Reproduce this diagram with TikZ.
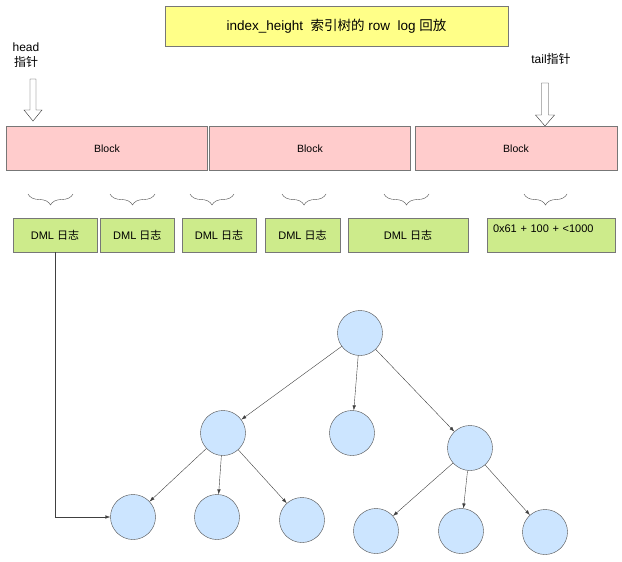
\documentclass[tikz,border=0pt]{standalone}
\usepackage{fontspec}
\setmainfont{Liberation Sans}
\newfontfamily\cjk{Noto Sans CJK SC}
\usetikzlibrary{arrows.meta,decorations.pathreplacing}
\definecolor{titleyellow}{HTML}{FFFF88}
\definecolor{blockpink}{HTML}{FFCCCC}
\definecolor{loggreen}{HTML}{CDEB8B}
\definecolor{nodeblue}{HTML}{CCE5FF}
\definecolor{linegray}{HTML}{777777}

\begin{document}
\begin{tikzpicture}[
        x=1pt, y=-1pt,
        titlebox/.style={draw=linegray, fill=titleyellow, minimum width=343pt, minimum height=40pt, font=\fontsize{13.5}{16}\selectfont},
        block/.style={draw=linegray, fill=blockpink, minimum width=201pt, minimum height=44.5pt, font=\fontsize{10.5}{12}\selectfont},
        dmllog/.style={draw=linegray, fill=loggreen, minimum height=34pt, font=\fontsize{11}{13}\selectfont},
        pointer/.style={align=center, font=\fontsize{12}{15}\selectfont},
        treenode/.style={circle, draw=black!70, fill=nodeblue, minimum size=45pt},
        brace/.style={decorate, decoration={brace, amplitude=11pt}, draw=black!70},
        hollowarrow/.style={draw=black!80, fill=white},
        edge/.style={draw=black!75, -{Latex[length=5pt,width=3.5pt]}}
    ]
    \useasboundingbox (0,0) rectangle (622,562);

    \node[titlebox] (title) at (336.5,26) {index\_height\ \ {\cjk 索引树的} row\ \ log {\cjk 回放}};

    \node[pointer] (headlabel) at (26,55) {head\\{\cjk 指针}};
    \node[pointer] (taillabel) at (551,59) {tail{\cjk 指针}};
    \coordinate (headtip) at (33,121);
    \coordinate (tailtip) at (545,126);
    \draw[hollowarrow] (headtip) -- ++(-9,-11) -- ++(6,0) -- ++(0,-31) -- ++(6,0) -- ++(0,31) -- ++(6,0) -- cycle;
    \draw[hollowarrow] (tailtip) -- ++(-9.5,-11) -- ++(6,0) -- ++(0,-32) -- ++(7,0) -- ++(0,32) -- ++(6,0) -- cycle;

    \node[block] (block1) at (107,148.3) {Block};
    \node[block] (block2) at (310,148.3) {Block};
    \node[block, minimum width=202pt] (block3) at (516,148.3) {Block};

    \draw[brace] (73,194) -- (28,194);
    \draw[brace] (155,194) -- (110,194);
    \draw[brace] (234,194) -- (190,194);
    \draw[brace] (326,194) -- (282,194);
    \draw[brace] (429,194) -- (384,194);
    \draw[brace] (567,194) -- (524,194);

    \node[dmllog, minimum width=84pt] (dml1) at (55,235) {DML {\cjk 日志}};
    \node[dmllog, minimum width=74.6pt] (dml2) at (137.3,235) {DML {\cjk 日志}};
    \node[dmllog, minimum width=74pt] (dml3) at (219,235) {DML {\cjk 日志}};
    \node[dmllog, minimum width=75pt] (dml4) at (302.5,235) {DML {\cjk 日志}};
    \node[dmllog, minimum width=120pt] (dml5) at (408,235) {DML {\cjk 日志}};
    \node[dmllog, minimum width=128pt, inner xsep=6pt, text width=116pt, align=left,
          text height=8pt, text depth=14pt] (dml6) at (551,235) {0x61 + 100 + <1000};

    \node[treenode] (root) at (360,333) {};
    \node[treenode] (left) at (223,433) {};
    \node[treenode] (mid) at (352,433) {};
    \node[treenode] (right) at (470,448) {};
    \node[treenode] (ll) at (133,517) {};
    \node[treenode] (lm) at (217,517) {};
    \node[treenode] (lr) at (302,520) {};
    \node[treenode] (rl) at (376,531) {};
    \node[treenode] (rm) at (461,531) {};
    \node[treenode] (rr) at (545,532) {};

    \draw[edge] (root) -- (left);
    \draw[edge] (root) -- (mid);
    \draw[edge] (root) -- (right);
    \draw[edge] (left) -- (ll);
    \draw[edge] (left) -- (lm);
    \draw[edge] (left) -- (lr);
    \draw[edge] (right) -- (rl);
    \draw[edge] (right) -- (rm);
    \draw[edge] (right) -- (rr);
    \draw[edge] (dml1.south) |- (ll.west);
\end{tikzpicture}
\end{document}
